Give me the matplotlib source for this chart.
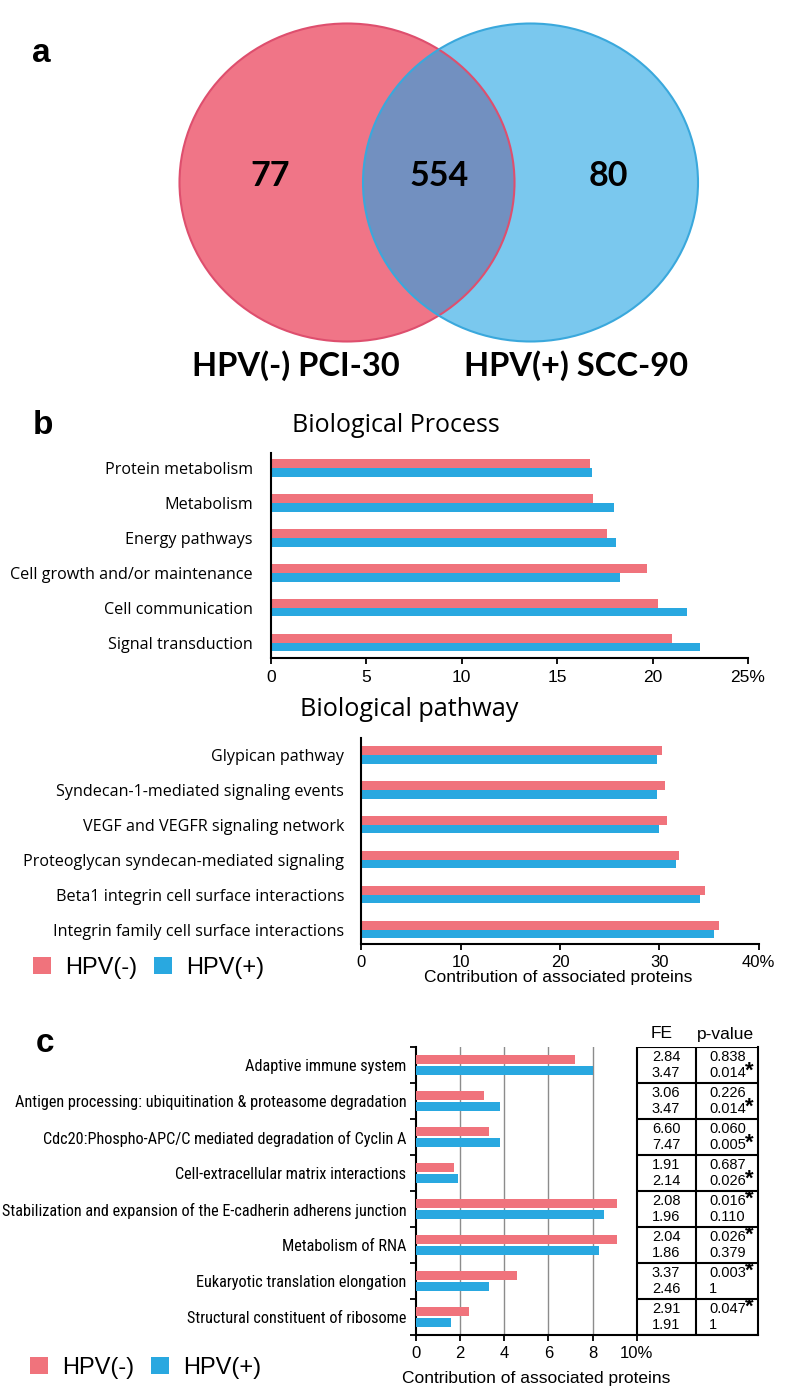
import os
import numpy as np
import matplotlib
matplotlib.use("Agg")
import matplotlib.pyplot as plt
from matplotlib import font_manager
from matplotlib.patches import Ellipse

W, H = 800, 1391

# a: venn counts (only PCI-30, shared, only SCC-90)
venn_counts = [77, 554, 80]
venn_labels = ["HPV(-) PCI-30", "HPV(+) SCC-90"]

# b: biological process (%)
bp_cats = ["Protein metabolism", "Metabolism", "Energy pathways",
           "Cell growth and/or maintenance", "Cell communication",
           "Signal transduction"]
bp_neg = [16.7, 16.9, 17.6, 19.7, 20.3, 21.0]
bp_pos = [16.8, 18.0, 18.1, 18.3, 21.8, 22.5]

# b: biological pathway (%)
pw_cats = ["Glypican pathway", "Syndecan-1-mediated signaling events",
           "VEGF and VEGFR signaling network",
           "Proteoglycan syndecan-mediated signaling",
           "Beta1 integrin cell surface interactions",
           "Integrin family cell surface interactions"]
pw_neg = [30.3, 30.6, 30.8, 32.0, 34.6, 36.0]
pw_pos = [29.8, 29.8, 30.0, 31.7, 34.1, 35.5]

# c: terms (%), fold enrichment and p-values
c_cats = ["Adaptive immune system",
          "Antigen processing: ubiquitination & proteasome degradation",
          "Cdc20:Phospho-APC/C mediated degradation of Cyclin A",
          "Cell-extracellular matrix interactions",
          "Stabilization and expansion of the E-cadherin adherens junction",
          "Metabolism of RNA",
          "Eukaryotic translation elongation",
          "Structural constituent of ribosome"]
c_neg = [7.2, 3.1, 3.3, 1.7, 9.1, 9.1, 4.6, 2.4]
c_pos = [8.0, 3.8, 3.8, 1.9, 8.5, 8.3, 3.3, 1.6]
fe_neg = ["2.84", "3.06", "6.60", "1.91", "2.08", "2.04", "3.37", "2.91"]
fe_pos = ["3.47", "3.47", "7.47", "2.14", "1.96", "1.86", "2.46", "1.91"]
p_neg = ["0.838", "0.226", "0.060", "0.687", "0.016", "0.026", "0.003", "0.047"]
p_pos = ["0.014", "0.014", "0.005", "0.026", "0.110", "0.379", "1", "1"]

RED = "#f0737c"
BLUE = "#29a8e0"

CAL = "Open Sans"
BOLDF = "Lato"
ARIAL = "Liberation Sans"


def narrow_font():
    # look for an installed condensed sans face (Arial Narrow look-alike)
    prefs = ["liberation sans narrow", "arial narrow", "roboto condensed",
             "dejavu sans condensed", "noto sans condensed", "open sans condensed",
             "condensed", "narrow"]
    found = []
    for f in font_manager.fontManager.ttflist:
        tag = (f.name + " " + os.path.basename(f.fname)).lower().replace("-", " ")
        if f.style != "normal" or str(f.weight) not in ("400", "normal", "regular", "book"):
            continue
        if any(w in tag for w in ["bold", "light", "thin", "black", "medium", "italic",
                                  "extra", "ultra", "mono"]):
            continue
        cond = "narrow" in tag or "condensed" in tag or f.stretch in ("condensed", "semi-condensed")
        if not cond:
            continue
        rank = next((i for i, p in enumerate(prefs) if p in tag), len(prefs))
        found.append((rank, f.fname))
    if found:
        found.sort()
        return font_manager.FontProperties(fname=found[0][1])
    return font_manager.FontProperties(family=ARIAL)


NARROW = narrow_font()

fig = plt.figure(figsize=(W / 100, H / 100), dpi=100)


def px_axes(x0, y0, x1, y1):
    return fig.add_axes([x0 / W, 1 - y1 / H, (x1 - x0) / W, (y1 - y0) / H])


def ftext(x, y, s, **kw):
    return fig.text(x / W, 1 - y / H, s, **kw)


# ---- a: venn
ax0 = fig.add_axes([0, 0, 1, 1])
ax0.set_xlim(0, W)
ax0.set_ylim(H, 0)
ax0.axis("off")
red_e = Ellipse((347, 182.5), 335, 318, facecolor="#f07587", edgecolor="none")
blue_e = Ellipse((530.5, 182.5), 335, 318, facecolor="#7ac8ee", edgecolor="none")
ax0.add_patch(red_e)
ax0.add_patch(blue_e)
ov = Ellipse((347, 182.5), 335, 318, facecolor="#7290c0", edgecolor="none")
ax0.add_patch(ov)
ov.set_clip_path(blue_e)
ax0.add_patch(Ellipse((347, 182.5), 335, 318, facecolor="none", edgecolor="#de4f6e", lw=1.5))
ax0.add_patch(Ellipse((530.5, 182.5), 335, 318, facecolor="none", edgecolor="#3aa8dc", lw=1.5))
for cx, n in zip([270, 439, 608], venn_counts):
    ax0.text(cx, 176, str(n), ha="center", va="center", fontsize=24.5,
             fontweight="bold", family=BOLDF)
for cx, lab in zip([296, 576], venn_labels):
    ax0.text(cx, 366, lab, ha="center", va="center", fontsize=23.5,
             fontweight="bold", family=BOLDF)

ftext(41, 53, "a", ha="center", va="center", fontsize=24, fontweight="bold", family=ARIAL)
ftext(43, 425, "b", ha="center", va="center", fontsize=24, fontweight="bold", family=ARIAL)
ftext(45, 1044, "c", ha="center", va="center", fontsize=24, fontweight="bold", family=ARIAL)

ftext(396, 432, "Biological Process", ha="center", va="baseline", fontsize=18, family=CAL)
ftext(300, 716, "Biological pathway", ha="left", va="baseline", fontsize=18.2, family=CAL)


def hbar_panel(ax, cats, neg, pos, xmax, step, ylim, pad):
    y = np.arange(len(cats))
    ax.barh(y - 0.125, neg, height=0.25, color=RED, label="HPV(-)")
    ax.barh(y + 0.125, pos, height=0.25, color=BLUE, label="HPV(+)")
    ax.set_xlim(0, xmax)
    ax.set_ylim(*ylim)
    ticks = np.arange(0, xmax + 1, step)
    ax.set_xticks(ticks)
    ax.set_xticklabels([f"{t:g}" for t in ticks[:-1]] + [f"{ticks[-1]:g}%"])
    ax.set_yticks(y)
    ax.set_yticklabels(cats, family=CAL, fontsize=11.6)
    ax.tick_params(axis="y", length=0, pad=pad)
    ax.tick_params(axis="x", length=4, width=1.3, direction="out")
    for s in ["top", "right"]:
        ax.spines[s].set_visible(False)
    for s in ["left", "bottom"]:
        ax.spines[s].set_linewidth(1.5)
    ax.set_facecolor("none")


ax1 = px_axes(271, 453, 748, 658)
hbar_panel(ax1, bp_cats, bp_neg, bp_pos, 25, 5, (5.44, -0.43), 13)
ax1.tick_params(axis="x", labelsize=12.5, pad=5)
for t in ax1.get_xticklabels():
    t.set_family(ARIAL)

ax2 = px_axes(361.4, 738, 758.7, 944)
hbar_panel(ax2, pw_cats, pw_neg, pw_pos, 40, 10, (5.41, -0.48), 12.5)
ax2.tick_params(axis="x", labelsize=12, pad=4)
for t in ax2.get_xticklabels():
    t.set_family(ARIAL)
ftext(558, 982, "Contribution of associated proteins", ha="center", va="baseline",
      fontsize=12.5, family=ARIAL)

leg_kw = dict(loc="center left", ncol=2, frameon=False,
              prop={"family": ARIAL, "size": 17},
              handlelength=0.75, handleheight=0.75, handletextpad=0.62,
              columnspacing=0.7, borderpad=0, borderaxespad=0)
h, l = ax2.get_legend_handles_labels()
fig.legend(h, l, bbox_to_anchor=(33 / W, 1 - 968 / H), **leg_kw)

# ---- c
ax3 = px_axes(416, 1047, 758, 1335)
yc = np.arange(len(c_cats))
ax3.barh(yc - 0.155, c_neg, height=0.24, color=RED, label="HPV(-)", zorder=3)
ax3.barh(yc + 0.155, c_pos, height=0.24, color=BLUE, label="HPV(+)", zorder=3)
ax3.set_xlim(0, 15.5)
ax3.set_ylim(7.5, -0.5)
ax3.set_xticks(np.arange(0, 11, 2))
ax3.set_xticklabels(["0", "2", "4", "6", "8", "10%"], family=ARIAL)
ax3.set_yticks(yc)
ax3.set_yticklabels(c_cats, fontproperties=NARROW)
ax3.set_yticks(np.arange(-0.5, 8), minor=True)
ax3.tick_params(axis="y", which="major", length=0, pad=7)
ax3.tick_params(axis="y", which="minor", length=4, width=1.3, direction="out")
ax3.tick_params(axis="x", length=4, width=1.3, direction="out", labelsize=12, pad=4)
ax3.spines["top"].set_visible(False)
for s in ["left", "bottom", "right"]:
    ax3.spines[s].set_linewidth(1.5)
for g in [2, 4, 6, 8]:
    ax3.axvline(g, color="#8c8c8c", lw=1, zorder=1)
fe_edge = 12.67
ax3.vlines([10, fe_edge], -0.5, 7.5, color="k", lw=1.5, zorder=4)
ax3.hlines(np.arange(-0.5, 8), 10, 15.5, color="k", lw=1.5, zorder=4)
ftext(662, 1034, "FE", ha="center", va="center", fontsize=12.5, family=ARIAL)
ftext(725, 1034, "p-value", ha="center", va="center", fontsize=12.5, family=ARIAL)
for i in range(len(c_cats)):
    for dy, fe, pv in [(-0.21, fe_neg[i], p_neg[i]), (0.21, fe_pos[i], p_pos[i])]:
        ax3.text((10 + fe_edge) / 2, i + dy, fe, ha="center", va="center",
                 fontsize=10.5, family=ARIAL)
        ax3.text(13.29, i + dy, pv, ha="left", va="center", fontsize=10.5, family=ARIAL)
        if float(pv) < 0.05:
            ax3.text(15.12, i + dy - 0.05, "*", ha="center", va="center",
                     fontsize=16, fontweight="bold", family=ARIAL)
ftext(536, 1383, "Contribution of associated proteins", ha="center", va="baseline",
      fontsize=12.5, family=ARIAL)

h, l = ax3.get_legend_handles_labels()
fig.legend(h, l, bbox_to_anchor=(30 / W, 1 - 1368 / H), **leg_kw)

# fit the condensed labels of panel c to the width they take in the original
fig.canvas.draw()
rend = fig.canvas.get_renderer()
labs = ax3.get_yticklabels()
widest = max(t.get_window_extent(rend).width for t in labs)
size = labs[0].get_fontsize() * 404.0 / widest
for t in labs:
    t.set_fontsize(size)

fig.savefig("out.png", dpi=100)
